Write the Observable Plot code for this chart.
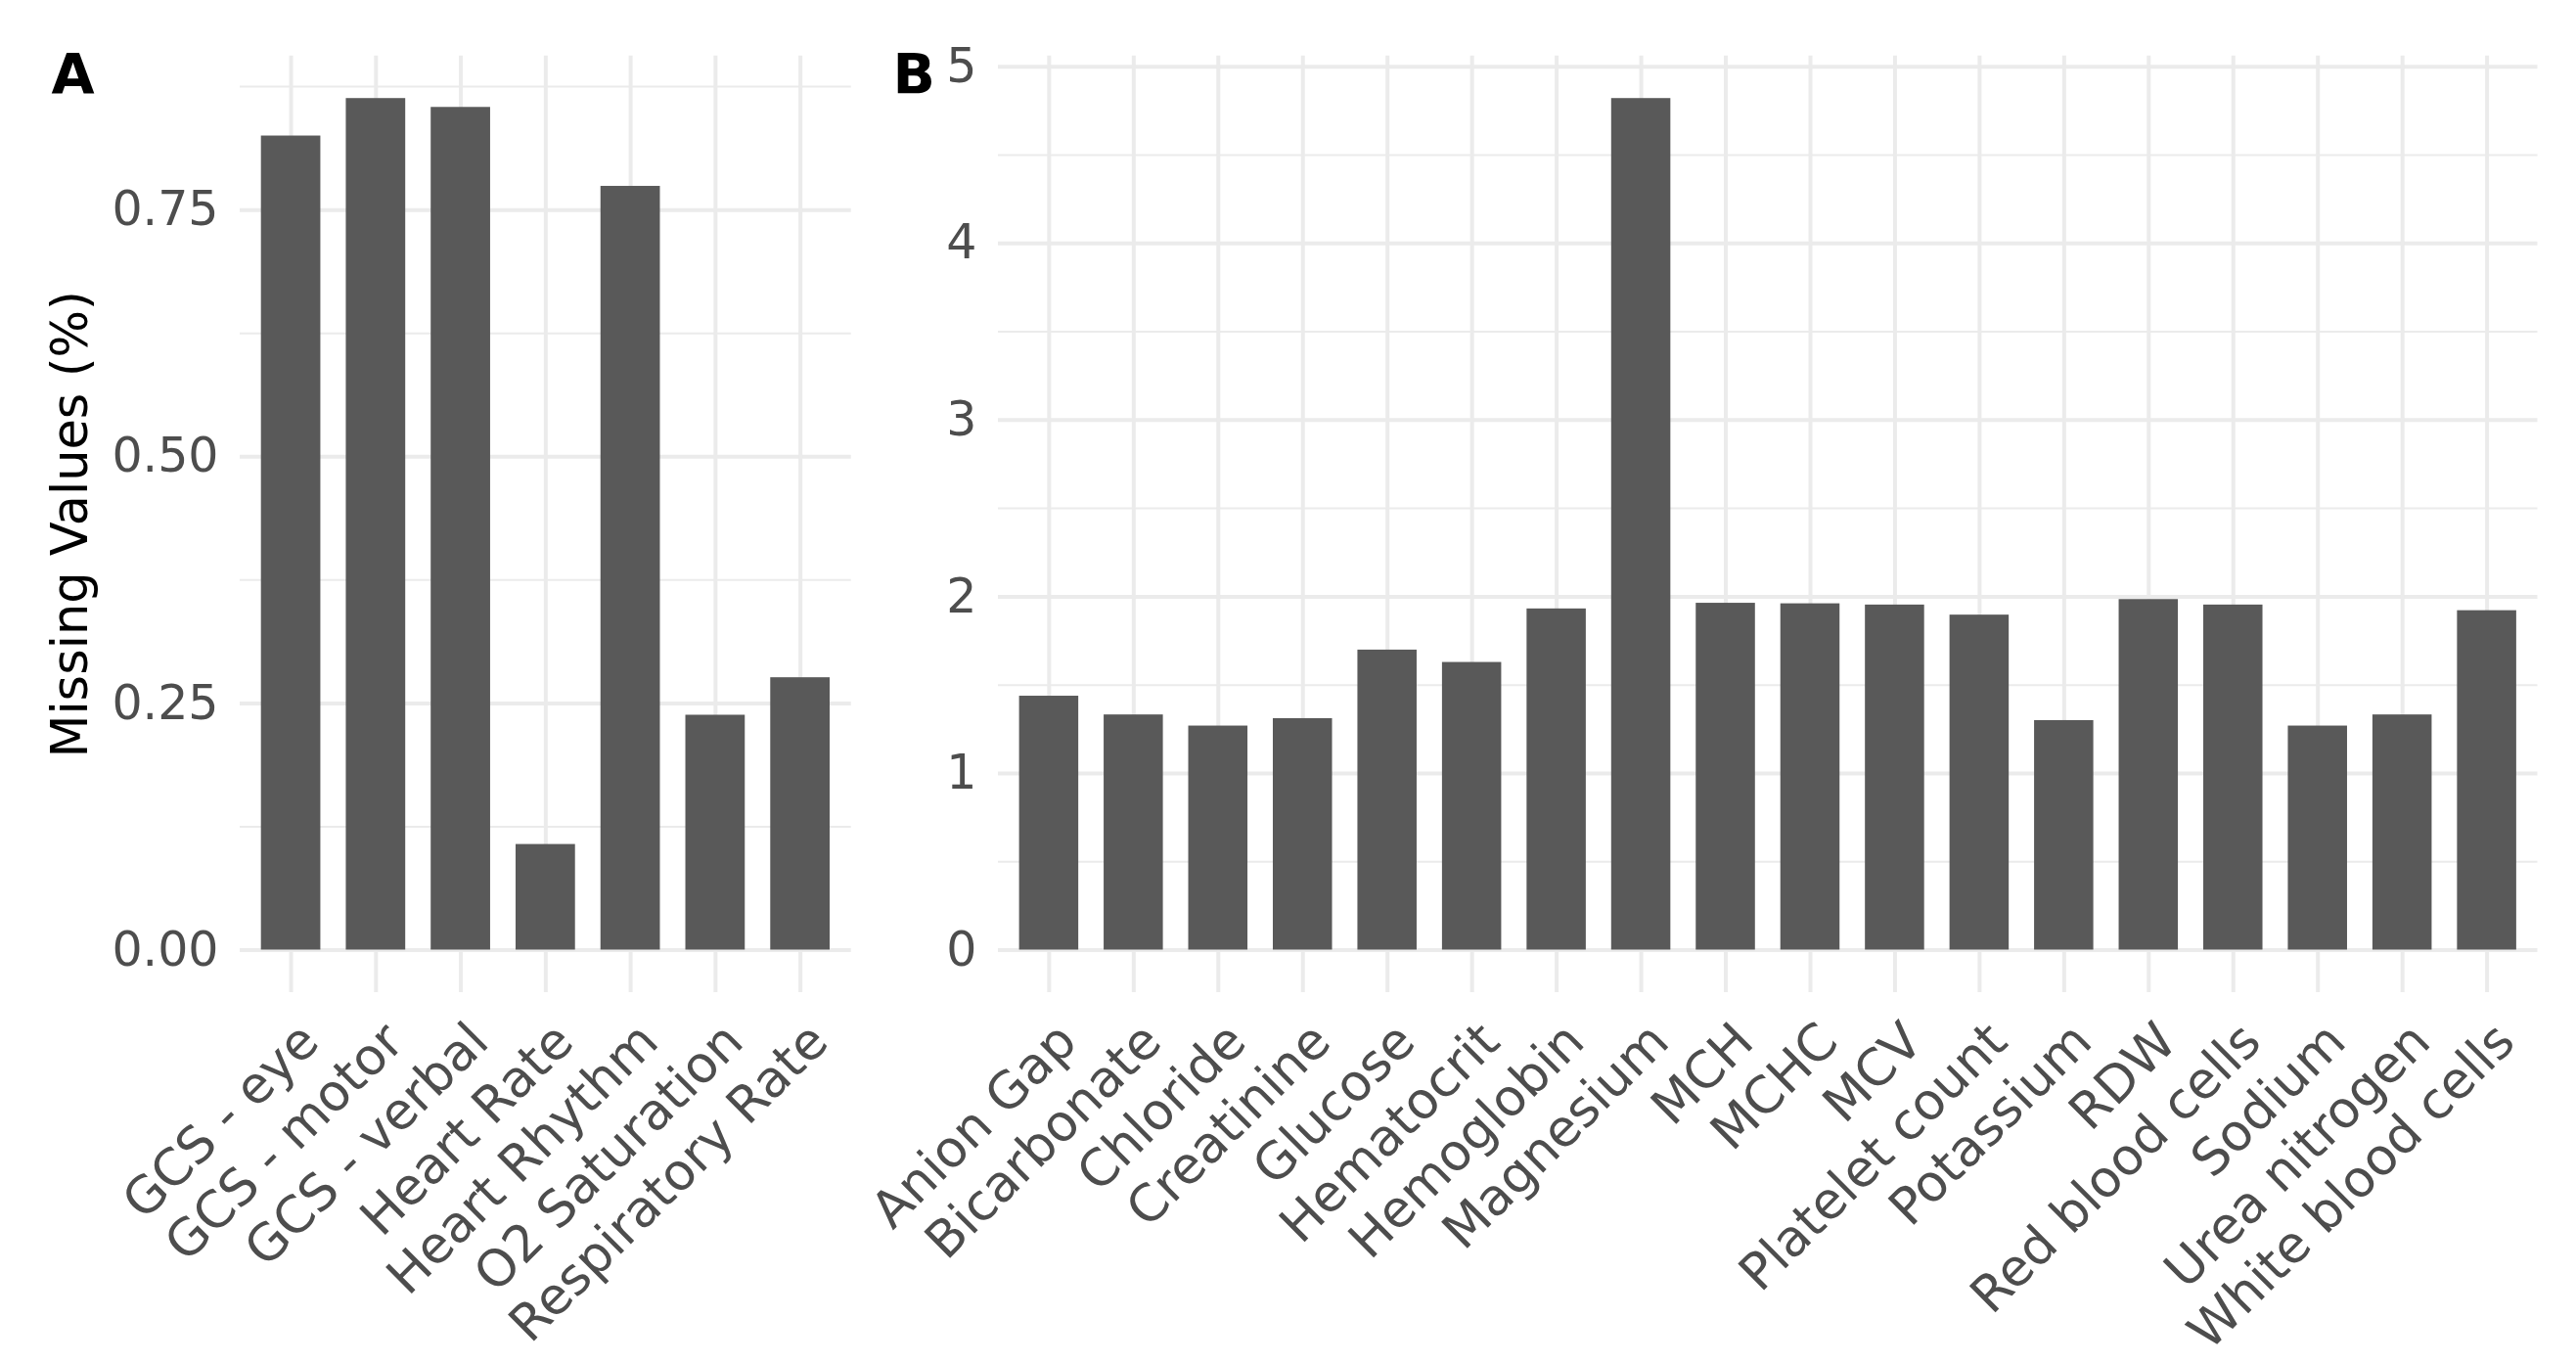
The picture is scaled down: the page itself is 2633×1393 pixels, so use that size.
<!DOCTYPE html>
<html>
<head>
<meta charset="utf-8">
<script src="https://cdn.jsdelivr.net/npm/d3@7"></script>
<script src="https://cdn.jsdelivr.net/npm/@observablehq/plot@0.6"></script>
<style>
  html, body { margin: 0; padding: 0; background: white; }
  #wrap { position: relative; width: 2633px; height: 1393px; overflow: hidden; background: white; }
  #wrap svg { position: absolute; top: 0; overflow: visible; }
</style>
</head>
<body>
<div id="wrap"></div>
<script>
// ---- Data ----
const categoriesA = ["GCS - eye", "GCS - motor", "GCS - verbal", "Heart Rate", "Heart Rhythm", "O2 Saturation", "Respiratory Rate"];
const valuesA = [0.825, 0.863, 0.854, 0.107, 0.774, 0.238, 0.276];

const categoriesB = ["Anion Gap", "Bicarbonate", "Chloride", "Creatinine", "Glucose", "Hematocrit", "Hemoglobin", "Magnesium", "MCH", "MCHC", "MCV", "Platelet count", "Potassium", "RDW", "Red blood cells", "Sodium", "Urea nitrogen", "White blood cells"];
const valuesB = [1.437, 1.331, 1.268, 1.310, 1.698, 1.628, 1.931, 4.820, 1.963, 1.960, 1.953, 1.896, 1.299, 1.984, 1.953, 1.268, 1.331, 1.921];

const majorTicksA = [0, 0.25, 0.5, 0.75];
const minorTicksA = [0.125, 0.375, 0.625, 0.875];
const majorTicksB = [0, 1, 2, 3, 4, 5];
const minorTicksB = [0.5, 1.5, 2.5, 3.5, 4.5];

const yTitle = "Missing Values (%)";
const tagA = "A";
const tagB = "B";

// ---- Styling ----
const barColor = "#595959";
const gridColor = "#EBEBEB";
const tickColor = "#4D4D4D";
const H = 1393, TOP = 56.7, BOTTOM = 1393 - 1014;

function panel({cats, vals, major, minor, fmt, width, left, right, tag, tagDx, title}) {
  const data = cats.map((c, i) => ({name: c, value: vals[i]}));
  const m = d3.max(vals);
  const marks = [
    Plot.gridY(minor, {stroke: gridColor, strokeOpacity: 1, strokeWidth: 2}),
    Plot.gridY(major, {stroke: gridColor, strokeOpacity: 1, strokeWidth: 4}),
    Plot.gridX(cats, {stroke: gridColor, strokeOpacity: 1, strokeWidth: 4}),
    Plot.barY(data, {x: "name", y: "value", fill: barColor}),
    Plot.axisY(major, {tickSize: 0, tickPadding: 22, tickFormat: fmt, fill: tickColor, label: null}),
    Plot.axisX({tickSize: 0, tickPadding: 41, dx: 19, tickRotate: -45, fill: tickColor, fontSize: 52, label: null}),
    Plot.text([tag], {text: d => d, frameAnchor: "top-left", textAnchor: "start", lineAnchor: "bottom",
      dx: tagDx, dy: 39, fontWeight: "bold", fontSize: 57, fill: "black"})
  ];
  if (title) {
    marks.push(Plot.text([title], {text: d => d, frameAnchor: "left", textAnchor: "middle", rotate: -90, lineAnchor: "top",
      dx: -193, fontSize: 51, fill: "black"}));
  }
  return Plot.plot({
    width, height: H,
    marginTop: TOP, marginBottom: BOTTOM, marginLeft: left, marginRight: right,
    style: {fontFamily: "DejaVu Sans", fontSize: "49px", background: "transparent", overflow: "visible"},
    x: {type: "band", domain: cats, paddingInner: 0.3, paddingOuter: 0.25, round: false, label: null},
    y: {domain: [-0.05 * m, 1.05 * m], label: null},
    marks
  });
}

const wrap = document.getElementById("wrap");

const svgA = panel({cats: categoriesA, vals: valuesA, major: majorTicksA, minor: minorTicksA,
  fmt: d3.format(".2f"), width: 880, left: 245, right: 880 - 869.7, tag: tagA, tagDx: -193, title: yTitle});
svgA.style.left = "0px";
wrap.appendChild(svgA);

const svgB = panel({cats: categoriesB, vals: valuesB, major: majorTicksB, minor: minorTicksB,
  fmt: d3.format("d"), width: 1753, left: 140, right: 2633 - 2593.5, tag: tagB, tagDx: -108, title: null});
svgB.style.left = "880px";
wrap.appendChild(svgB);
</script>
</body>
</html>
